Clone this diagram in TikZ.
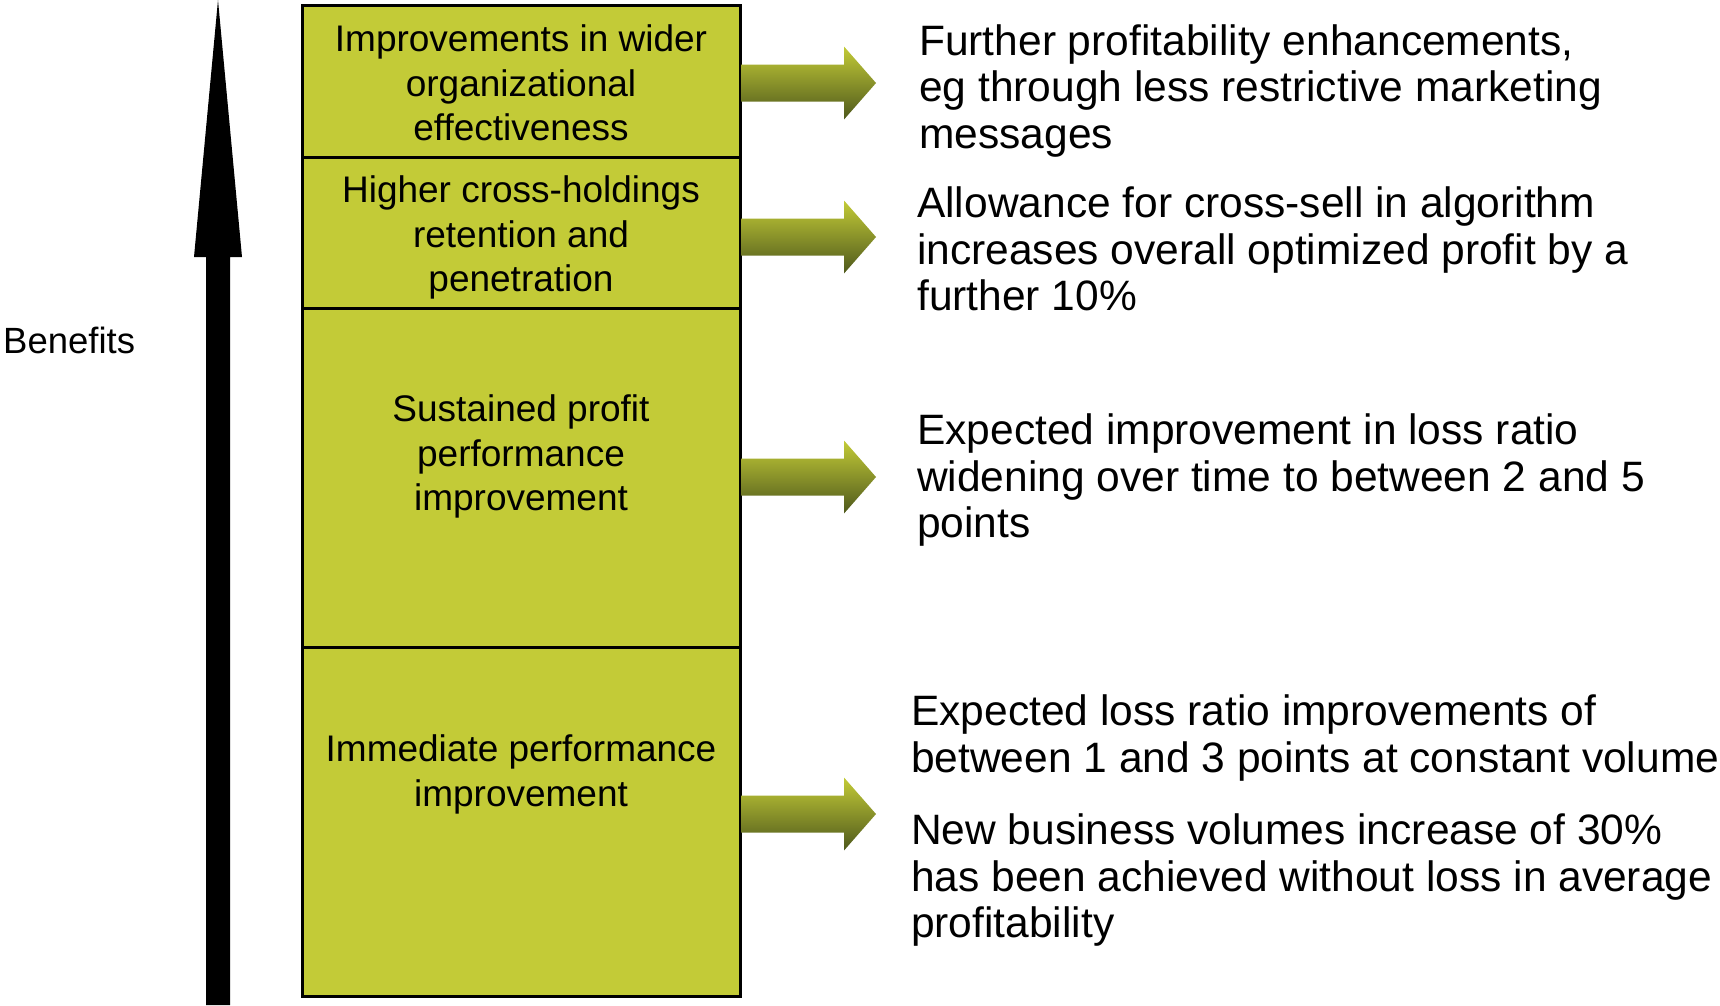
\documentclass[tikz,border=0pt]{standalone}
\usepackage{fontspec}
\setmainfont{Liberation Sans}
\definecolor{boxgreen}{HTML}{C3CB37}
\definecolor{olivemid}{HTML}{A3AB2E}
\definecolor{olivedark}{HTML}{4E581C}
\begin{document}
\begin{tikzpicture}[x=1pt,y=-1pt,
  boxtext/.style={align=center,inner sep=0pt,font=\fontsize{37}{44.5}\selectfont},
  sidetext/.style={align=left,inner sep=0pt,anchor=west,font=\fontsize{42.5}{46.6}\selectfont},
  layer/.style={fill=boxgreen,draw=black,line width=3pt},
  pointer/.style={left color=boxgreen,middle color=olivemid,right color=olivedark,shading angle=0}]
\useasboundingbox (0,0) rectangle (1720,1005);
% big benefits arrow
\fill[black] (206,1005) -- (206,257) -- (194,257) -- (218,0) -- (242,257) -- (230,257) -- (230,1005) -- cycle;
\node[anchor=west,inner sep=0pt,font=\fontsize{36.5}{40}\selectfont] (benefits) at (3,340) {Benefits};
% stacked boxes
\draw[layer] (302,647) rectangle (740,996);
\draw[layer] (302,308) rectangle (740,647);
\draw[layer] (302,157) rectangle (740,308);
\draw[layer] (302,5) rectangle (740,157);
\coordinate (b1) at (740,83);
\coordinate (b2) at (740,237);
\coordinate (b3) at (740,477);
\coordinate (b4) at (740,814);
\node[boxtext] (t1) at (521,83) {Improvements in wider\\organizational\\effectiveness};
\node[boxtext] (t2) at (521,237.5) {Higher cross-holdings\\retention and\\penetration};
\node[boxtext] (t3) at (521,456.5) {Sustained profit\\performance\\improvement};
\node[boxtext] (t4) at (521,774.5) {Immediate performance\\improvement};
% gradient arrows
\foreach \c in {b1,b2,b3,b4}{
  \shade[pointer] ([xshift=1pt,yshift=-18.5pt]\c) -- ([xshift=104pt,yshift=-18.5pt]\c) -- ([xshift=104pt,yshift=-36.5pt]\c) -- ([xshift=136pt]\c) -- ([xshift=104pt,yshift=36.5pt]\c) -- ([xshift=104pt,yshift=18.5pt]\c) -- ([xshift=1pt,yshift=18.5pt]\c) -- cycle;
}
% side texts
\node[sidetext] (r1) at (919,91) {Further profitability enhancements,\\eg through less restrictive marketing\\messages};
\node[sidetext] (r2) at (917,249) {Allowance for cross-sell in algorithm\\increases overall optimized profit by a\\further 10\%};
\node[sidetext] (r3) at (917,480) {Expected improvement in loss ratio\\widening over time to between 2 and 5\\points};
\node[sidetext] (r4a) at (911,738) {Expected loss ratio improvements of\\between 1 and 3 points at constant volume};
\node[sidetext] (r4b) at (911,880) {New business volumes increase of 30\%\\has been achieved without loss in average\\profitability};
\end{tikzpicture}
\end{document}
